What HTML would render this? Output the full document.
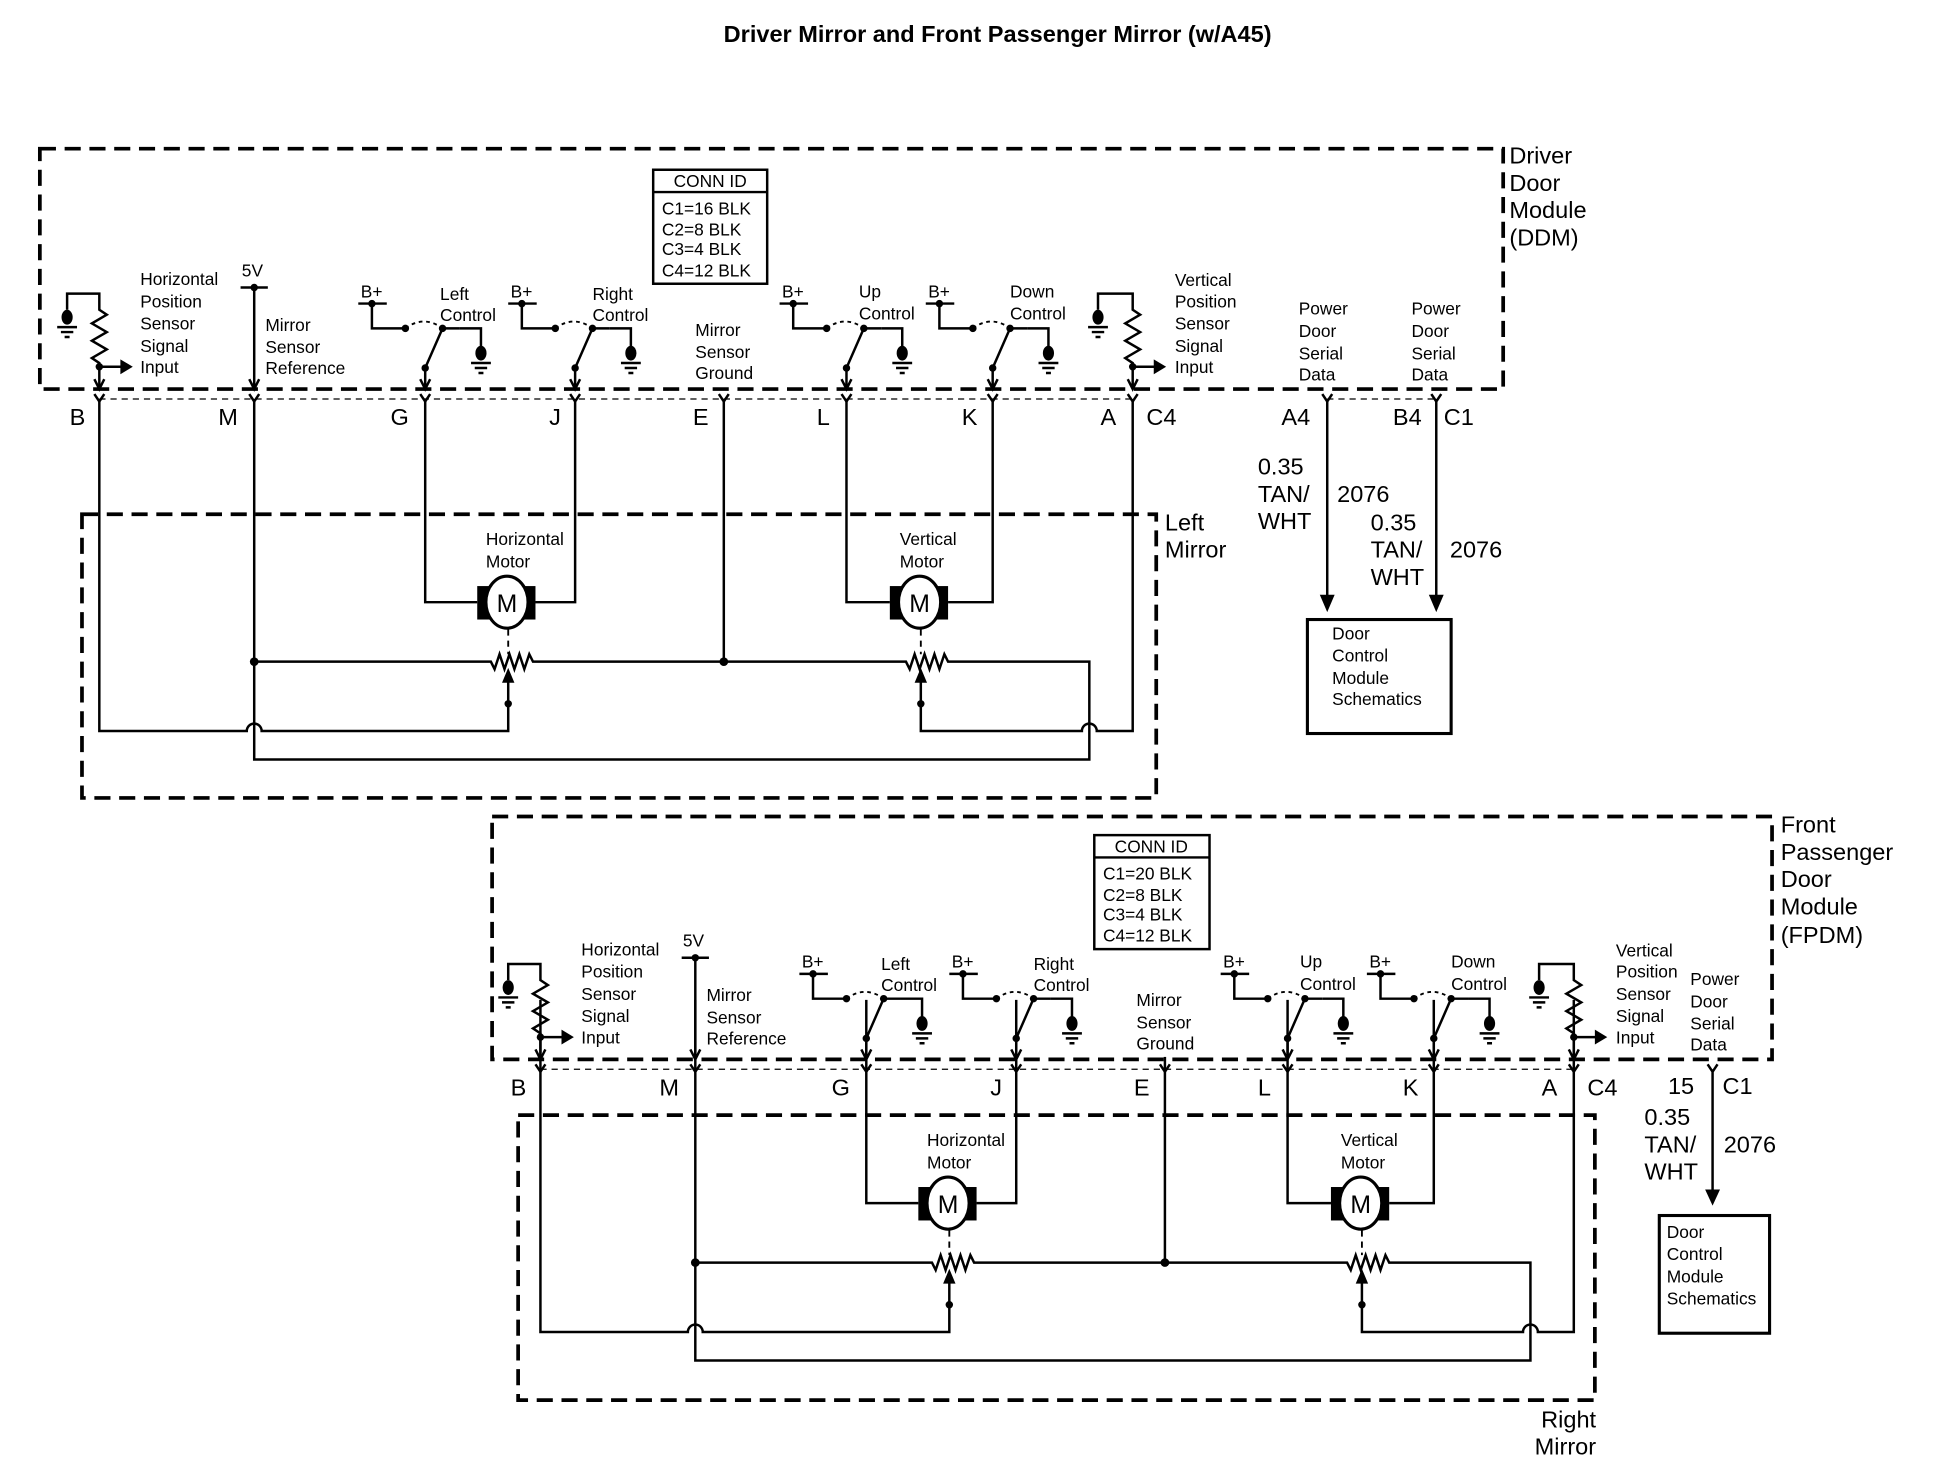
<!DOCTYPE html>
<html><head><meta charset="utf-8"><style>
html,body{margin:0;padding:0;background:#fff;}
svg{display:block;}
text{font-family:"Liberation Sans",Arial,sans-serif;fill:#000;}
.s{font-size:14px;}
.b{font-size:19px;}
.w{fill:none;stroke:#000;stroke-width:2;}
.d{fill:none;stroke:#000;stroke-width:3;stroke-dasharray:13 7;}
.t{fill:none;stroke:#000;stroke-width:1;stroke-dasharray:5 4;}
</style></head><body>
<svg width="1942" height="1472" viewBox="0 0 1567 1188" xmlns="http://www.w3.org/2000/svg">
<text x="805" y="34" text-anchor="middle" style="font-size:19px;font-weight:bold">Driver Mirror and Front Passenger Mirror (w/A45)</text>

<rect x="32" y="120" width="1181" height="194" class="d"/>
<text class="b" x="1218" y="132">Driver</text><text class="b" x="1218" y="154">Door</text><text class="b" x="1218" y="176">Module</text><text class="b" x="1218" y="198">(DDM)</text>

<g id="modA">
<rect x="527" y="137" width="92" height="92" fill="none" stroke="#000" stroke-width="2"/>
<line x1="527" y1="155" x2="619" y2="155" stroke="#000" stroke-width="2"/>
<text class="s" x="573" y="151" text-anchor="middle">CONN ID</text>
<text class="s" x="534" y="173">C1=16 BLK</text><text class="s" x="534" y="190">C2=8 BLK</text><text class="s" x="534" y="206">C3=4 BLK</text><text class="s" x="534" y="223">C4=12 BLK</text>

<path class="w" d="M54,250 V237 H80 V250 l6,4 -12,7 12,7 -12,7 12,7 -12,7 6,4 V313"/>
<path class="w" d="M76,306 L80,314 L84,306"/>
<circle cx="80" cy="296" r="3"/><path class="w" d="M80,296 H98"/><path d="M97,290 L107,296 L97,302Z"/>
<ellipse cx="54" cy="256" rx="4.5" ry="6"/><path class="w" d="M46,264 h16 M49,268 h10 M52,272 h4"/>
<text class="s" x="113" y="230">Horizontal</text><text class="s" x="113" y="248">Position</text><text class="s" x="113" y="266">Sensor</text><text class="s" x="113" y="284">Signal</text><text class="s" x="113" y="301">Input</text>
<text class="s" x="195" y="223">5V</text>
<path class="w" d="M194,232 H216 M205,232 V313 M201,306 L205,314 L209,306"/><circle cx="205" cy="232" r="3"/>
<text class="s" x="214" y="267">Mirror</text><text class="s" x="214" y="285">Sensor</text><text class="s" x="214" y="302">Reference</text>

<g id="swL">
<text class="s" x="291" y="240">B+</text>
<path class="w" d="M289,245 H312 M300,245 V265 H327 M371,265 H388 V280 M343,297 V313 M339,306 L343,314 L347,306 M343,297 L357,265"/>
<path d="M327,265 Q342,254 357,265" fill="none" stroke="#000" stroke-width="1.5" stroke-dasharray="3 3"/>
<path class="w" d="M357,265 H371"/>
<circle cx="300" cy="245" r="3"/><circle cx="327" cy="265" r="3"/><circle cx="357" cy="265" r="3"/><circle cx="343" cy="297" r="3"/>
<ellipse cx="388" cy="285" rx="4.5" ry="6"/><path class="w" d="M380,293 h16 M383,297 h10 M386,301 h4"/>
</g>
<text class="s" x="355" y="242">Left</text><text class="s" x="355" y="259">Control</text>
<use href="#swL" transform="translate(121,0)"/>
<text class="s" x="478" y="242">Right</text><text class="s" x="478" y="259">Control</text>
<text class="s" x="561" y="271">Mirror</text><text class="s" x="561" y="289">Sensor</text><text class="s" x="561" y="306">Ground</text>
<use href="#swL" transform="translate(340,0)"/>
<text class="s" x="693" y="240">Up</text><text class="s" x="693" y="258">Control</text>
<use href="#swL" transform="translate(458,0)"/>
<text class="s" x="815" y="240">Down</text><text class="s" x="815" y="258">Control</text>

<path class="w" d="M886,250 V237 H914 V250 l6,4 -12,7 12,7 -12,7 12,7 -12,7 6,4 V313 M910,306 L914,314 L918,306"/>
<circle cx="914" cy="296" r="3"/><path class="w" d="M914,296 H932"/><path d="M931,290 L941,296 L931,302Z"/>
<ellipse cx="886" cy="256" rx="4.5" ry="6"/><path class="w" d="M878,264 h16 M881,268 h10 M884,272 h4"/>
<text class="s" x="948" y="231">Vertical</text><text class="s" x="948" y="248">Position</text><text class="s" x="948" y="266">Sensor</text><text class="s" x="948" y="284">Signal</text><text class="s" x="948" y="301">Input</text>

<path class="t" d="M80,322 H914"/>
<path class="w" d="M76,318 L80,324 L84,318 M201,318 L205,324 L209,318 M339,318 L343,324 L347,318 M460,318 L464,324 L468,318 M580,318 L584,324 L588,318 M679,318 L683,324 L687,318 M797,318 L801,324 L805,318 M910,318 L914,324 L918,318"/>
<text class="b" x="56" y="343">B</text><text class="b" x="176" y="343">M</text><text class="b" x="315" y="343">G</text><text class="b" x="443" y="343">J</text><text class="b" x="559" y="343">E</text><text class="b" x="659" y="343">L</text><text class="b" x="776" y="343">K</text><text class="b" x="888" y="343">A</text><text class="b" x="925" y="343">C4</text>
</g>

<text class="s" x="1048" y="254">Power</text><text class="s" x="1048" y="272">Door</text><text class="s" x="1048" y="290">Serial</text><text class="s" x="1048" y="307">Data</text>
<text class="s" x="1139" y="254">Power</text><text class="s" x="1139" y="272">Door</text><text class="s" x="1139" y="290">Serial</text><text class="s" x="1139" y="307">Data</text>
<path class="t" d="M1071,322 H1159"/>
<path class="w" d="M1067,318 L1071,324 L1075,318 M1155,318 L1159,324 L1163,318 M1071,322 V482 M1159,322 V482"/>
<path d="M1065,480 L1071,494 L1077,480Z M1153,480 L1159,494 L1165,480Z"/>
<text class="b" x="1034" y="343">A4</text><text class="b" x="1124" y="343">B4</text><text class="b" x="1165" y="343">C1</text>
<text class="b" x="1015" y="383">0.35</text><text class="b" x="1015" y="405">TAN/</text><text class="b" x="1015" y="427">WHT</text><text class="b" x="1079" y="405">2076</text>
<text class="b" x="1106" y="428">0.35</text><text class="b" x="1106" y="450">TAN/</text><text class="b" x="1106" y="472">WHT</text><text class="b" x="1170" y="450">2076</text>
<rect x="1055" y="500" width="116" height="92" fill="none" stroke="#000" stroke-width="2.5"/>
<text class="s" x="1075" y="516">Door</text><text class="s" x="1075" y="534">Control</text><text class="s" x="1075" y="552">Module</text><text class="s" x="1075" y="569">Schematics</text>

<rect x="66" y="415" width="867" height="229" class="d"/>
<text class="b" x="940" y="428">Left</text><text class="b" x="940" y="450">Mirror</text>
<g id="mirA">
<path class="w" d="M80,322 V590 H199 a6,6 0 0 1 12,0 H410 V548"/>
<path class="w" d="M914,322 V590 H885 a6,6 0 0 0 -12,0 H743 V548"/>
<path d="M405,551 L410,539 L415,551Z M738,551 L743,539 L748,551Z"/>
<circle cx="410" cy="568" r="3"/><circle cx="743" cy="568" r="3"/>
<path class="w" d="M205,322 V613 H879 V534 H765 l-3,-6 -4,12 -4,-12 -4,12 -4,-12 -4,12 -4,-12 -4,12 -3,-6 H430 l-3,-6 -4,12 -4,-12 -4,12 -4,-12 -4,12 -4,-12 -4,12 -3,-6 H205"/>
<path class="w" d="M584,322 V534"/>
<circle cx="205" cy="534" r="3.5"/><circle cx="584" cy="534" r="3.5"/>
<path class="w" d="M343,322 V486 H385 M464,322 V486 H432 M683,322 V486 H718 M801,322 V486 H765"/>
<rect x="385" y="473" width="47" height="27"/><rect x="718" y="473" width="47" height="27"/>
<ellipse cx="409" cy="486" rx="17" ry="21" fill="#fff" stroke="#000" stroke-width="2.5"/>
<ellipse cx="742" cy="486" rx="17" ry="21" fill="#fff" stroke="#000" stroke-width="2.5"/>
<text x="409" y="494" text-anchor="middle" style="font-size:20px">M</text>
<text x="742" y="494" text-anchor="middle" style="font-size:20px">M</text>
<path d="M410,508 V528 M743,508 V528" stroke="#000" stroke-width="1.5" stroke-dasharray="5 4"/>
<text class="s" x="392" y="440">Horizontal</text><text class="s" x="392" y="458">Motor</text>
<text class="s" x="726" y="440">Vertical</text><text class="s" x="726" y="458">Motor</text>
</g>

<rect x="418" y="900" width="869" height="230" class="d"/>
<text class="b" x="1288" y="1152" text-anchor="end">Right</text><text class="b" x="1288" y="1174" text-anchor="end">Mirror</text>
<use href="#mirA" transform="translate(356,485)"/>
<rect x="936" y="798" width="10" height="55" fill="#fff"/>

<rect x="397" y="659" width="1033" height="196" class="d"/>
<text class="b" x="1437" y="672">Front</text><text class="b" x="1437" y="694">Passenger</text><text class="b" x="1437" y="716">Door</text><text class="b" x="1437" y="738">Module</text><text class="b" x="1437" y="761">(FPDM)</text>
<use href="#modA" transform="translate(356,541)"/>
<rect x="879" y="672" width="102" height="103" fill="#fff"/>
<rect x="883" y="674" width="93" height="92" fill="none" stroke="#000" stroke-width="2"/>
<line x1="883" y1="692" x2="976" y2="692" stroke="#000" stroke-width="2"/>
<text class="s" x="929" y="688" text-anchor="middle">CONN ID</text>
<text class="s" x="890" y="710">C1=20 BLK</text><text class="s" x="890" y="727">C2=8 BLK</text><text class="s" x="890" y="743">C3=4 BLK</text><text class="s" x="890" y="760">C4=12 BLK</text>

<text class="s" x="1364" y="795">Power</text><text class="s" x="1364" y="813">Door</text><text class="s" x="1364" y="831">Serial</text><text class="s" x="1364" y="848">Data</text>
<path class="w" d="M1378,859 L1382,865 L1386,859 M1382,863 V962"/>
<path d="M1376,960 L1382,973 L1388,960Z"/>
<text class="b" x="1346" y="883">15</text><text class="b" x="1390" y="883">C1</text>
<text class="b" x="1327" y="908">0.35</text><text class="b" x="1327" y="930">TAN/</text><text class="b" x="1327" y="952">WHT</text><text class="b" x="1391" y="930">2076</text>
<rect x="1339" y="981" width="89" height="95" fill="none" stroke="#000" stroke-width="2.5"/>
<text class="s" x="1345" y="999">Door</text><text class="s" x="1345" y="1017">Control</text><text class="s" x="1345" y="1035">Module</text><text class="s" x="1345" y="1053">Schematics</text>
</svg>
</body></html>
